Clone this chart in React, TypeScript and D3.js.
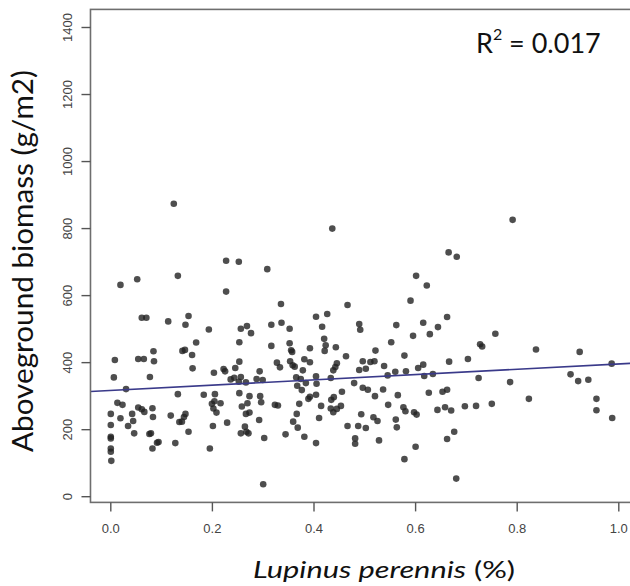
import React from "react";
import * as d3 from "d3";

// Lupinus perennis cover (fraction) for each plot
const lupinus: number[] = [
  0.124, 0.436, 0.791, 0.665, 0.681, 0.227, 0.252, 0.308, 0.019, 0.052, 0.132, 0.601, 0.622, 0.227, 0.335, 0.466,
  0.590, 0.061, 0.070, 0.113, 0.153, 0.147, 0.193, 0.256, 0.268, 0.316, 0.336, 0.352, 0.404, 0.426, 0.416, 0.662,
  0.489, 0.491, 0.562, 0.615, 0.644,
  0.276, 0.253, 0.168, 0.141, 0.146, 0.084, 0.160, 0.054, 0.065, 0.085, 0.008, 0.253, 0.161, 0.203, 0.222, 0.225,
  0.245, 0.293, 0.006, 0.077, 0.236, 0.243, 0.256, 0.252, 0.266, 0.287, 0.299, 0.030, 0.132, 0.183, 0.205, 0.204,
  0.216, 0.253, 0.273, 0.294, 0.296, 0.269, 0.258, 0.013, 0.023, 0.054, 0.061, 0.066, 0.082, 0.083, 0.000, 0.019,
  0.042, 0.044, 0.034, 0.000, 0.118, 0.147, 0.144, 0.135, 0.140, 0.199, 0.202, 0.208, 0.229, 0.201, 0.266, 0.273,
  0.292, 0.264,
  0.316, 0.352, 0.355, 0.357, 0.392, 0.420, 0.423, 0.421, 0.443, 0.463, 0.521, 0.552, 0.595, 0.578, 0.327, 0.333,
  0.353, 0.358, 0.362, 0.381, 0.392, 0.378, 0.438, 0.442, 0.445, 0.489, 0.496, 0.502, 0.511, 0.519, 0.538, 0.545,
  0.560, 0.581, 0.605, 0.615, 0.617, 0.365, 0.374, 0.367, 0.376, 0.384, 0.404, 0.405, 0.433, 0.479, 0.496, 0.506,
  0.455, 0.434, 0.439, 0.392, 0.389, 0.404, 0.371, 0.414, 0.323, 0.329, 0.520, 0.536, 0.565, 0.546, 0.576, 0.580,
  0.597, 0.602, 0.626, 0.433, 0.445, 0.453, 0.438, 0.366, 0.359, 0.410, 0.493, 0.517, 0.525, 0.561, 0.466, 0.487,
  0.502, 0.563, 0.368,
  0.628, 0.666, 0.703, 0.727, 0.731, 0.757, 0.837, 0.923, 0.986, 0.634, 0.724, 0.786, 0.905, 0.920, 0.940, 0.653,
  0.662, 0.823, 0.956, 0.956, 0.987, 0.643, 0.658, 0.670, 0.697, 0.719, 0.750,
  0.000, 0.000, 0.000, 0.000, 0.001, 0.046, 0.076, 0.079, 0.082, 0.091, 0.094, 0.127, 0.153, 0.195, 0.256, 0.267,
  0.271, 0.302, 0.344, 0.381, 0.404, 0.300, 0.481, 0.481, 0.528, 0.578, 0.600, 0.662, 0.676, 0.680,
];

// Aboveground biomass (g/m2) for the same plots
const biomass: number[] = [
  874, 800, 826, 729, 716, 704, 701, 679, 632, 649, 659, 659, 630, 612, 575, 572,
  585, 534, 534, 523, 539, 513, 499, 501, 509, 513, 519, 501, 537, 545, 507, 536,
  515, 498, 512, 519, 506,
  488, 461, 460, 435, 438, 434, 423, 411, 411, 404, 408, 403, 383, 370, 381, 374,
  384, 374, 356, 357, 350, 355, 357, 343, 341, 351, 348, 321, 306, 304, 306, 285,
  279, 309, 300, 300, 282, 279, 269, 280, 274, 266, 261, 253, 264, 238, 247, 234,
  247, 226, 211, 214, 242, 247, 238, 223, 224, 277, 263, 251, 221, 211, 247, 251,
  229, 209,
  450, 458, 437, 432, 443, 471, 452, 435, 446, 419, 436, 461, 480, 421, 400, 386,
  404, 392, 388, 410, 401, 377, 377, 387, 398, 378, 404, 382, 402, 404, 390, 362,
  373, 374, 384, 394, 360, 356, 351, 331, 318, 339, 359, 337, 354, 339, 325, 319,
  313, 289, 297, 298, 292, 304, 277, 271, 274, 272, 300, 320, 303, 274, 267, 255,
  252, 245, 310, 263, 262, 271, 252, 247, 224, 235, 246, 237, 226, 230, 211, 211,
  205, 207, 206,
  485, 403, 411, 455, 448, 486, 439, 432, 397, 366, 354, 342, 365, 345, 349, 313,
  319, 292, 292, 258, 235, 259, 267, 257, 270, 271, 277,
  179, 174, 144, 134, 107, 189, 187, 189, 144, 161, 163, 160, 194, 144, 189, 194,
  189, 175, 186, 179, 160, 37, 174, 158, 168, 112, 149, 172, 194, 54,
];

const xTicks: number[] = [0, 0.2, 0.4, 0.6, 0.8, 1.0];
const yTicks: number[] = [0, 200, 400, 600, 800, 1000, 1200, 1400];
const fitIntercept = 317;
const fitSlope = 79;
const r2Value = "0.017";

export default function App() {
  const W = 630;
  const H = 586;
  const x = d3.scaleLinear().domain([0, 1]).range([110.8, 618.8]);
  const y = d3.scaleLinear().domain([0, 1400]).range([496.7, 27.5]);
  const xLo = -0.04, xHi = 1.04, yLo = -17, yHi = 1454;
  const left = x(xLo), right = x(xHi), top = y(yHi), bottom = y(yLo);

  const fitLine = d3
    .line<number>()
    .x((d) => x(d))
    .y((d) => y(fitIntercept + fitSlope * d));

  const pts = lupinus.map((v, i) => [v, biomass[i]] as [number, number]);

  return (
    <svg
      width={W}
      height={H}
      viewBox={`0 0 ${W} ${H}`}
      style={{ position: "absolute", left: 0, top: 0, background: "#fff" }}
    >
      <rect x={0} y={0} width={W} height={H} fill="#fff" />
      {/* points */}
      <g>
        {pts.map((p, i) => (
          <circle key={i} cx={x(p[0])} cy={y(p[1])} r={3.3} fill="#222" fillOpacity={0.8} />
        ))}
      </g>
      {/* fitted line */}
      <path d={fitLine([xLo, xHi]) || ""} stroke="#3a3a8a" strokeWidth={1.6} fill="none" />
      {/* frame */}
      <rect
        x={left}
        y={top}
        width={right - left}
        height={bottom - top}
        fill="none"
        stroke="#6e6e6e"
        strokeWidth={1.6}
      />
      {/* y axis ticks */}
      <g>
        {yTicks.map((t) => (
          <g key={t}>
            <line x1={left - 9} x2={left} y1={y(t)} y2={y(t)} stroke="#555" strokeWidth={1.4} />
            <text
              transform={`translate(71.5, ${y(t)}) rotate(-90)`}
              textAnchor="middle"
              fontFamily="'Liberation Sans', Arial, sans-serif"
              fontSize={13}
              fill="#444"
            >
              {t}
            </text>
          </g>
        ))}
      </g>
      {/* x axis ticks */}
      <g>
        {xTicks.map((t) => (
          <g key={t}>
            <line x1={x(t)} x2={x(t)} y1={bottom} y2={bottom + 9} stroke="#555" strokeWidth={1.4} />
            <text
              x={x(t)}
              y={533}
              textAnchor="middle"
              fontFamily="'Liberation Sans', Arial, sans-serif"
              fontSize={13}
              fill="#444"
            >
              {d3.format(".1f")(t)}
            </text>
          </g>
        ))}
      </g>
      {/* axis titles */}
      <text
        x={384}
        y={577.5}
        textAnchor="middle"
        fontFamily="Lato, 'Open Sans', sans-serif"
        fontSize={23}
        fill="#111"
        textLength={262}
        lengthAdjust="spacingAndGlyphs"
      >
        <tspan fontStyle="italic">Lupinus perennis</tspan>
        <tspan> (%)</tspan>
      </text>
      <text
        transform={`translate(33, 261) rotate(-90)`}
        textAnchor="middle"
        fontFamily="Lato, 'Open Sans', sans-serif"
        fontSize={28}
        fill="#111"
        textLength={382}
        lengthAdjust="spacingAndGlyphs"
      >
        Aboveground biomass (g/m2)
      </text>
      {/* R squared annotation */}
      <text x={476} y={52.5} fontFamily="Lato, 'Open Sans', sans-serif" fontSize={27} fill="#111">
        R
        <tspan fontSize={16} dy={-13}>2</tspan>
        <tspan dy={13}>{` = ${r2Value}`}</tspan>
      </text>
    </svg>
  );
}
